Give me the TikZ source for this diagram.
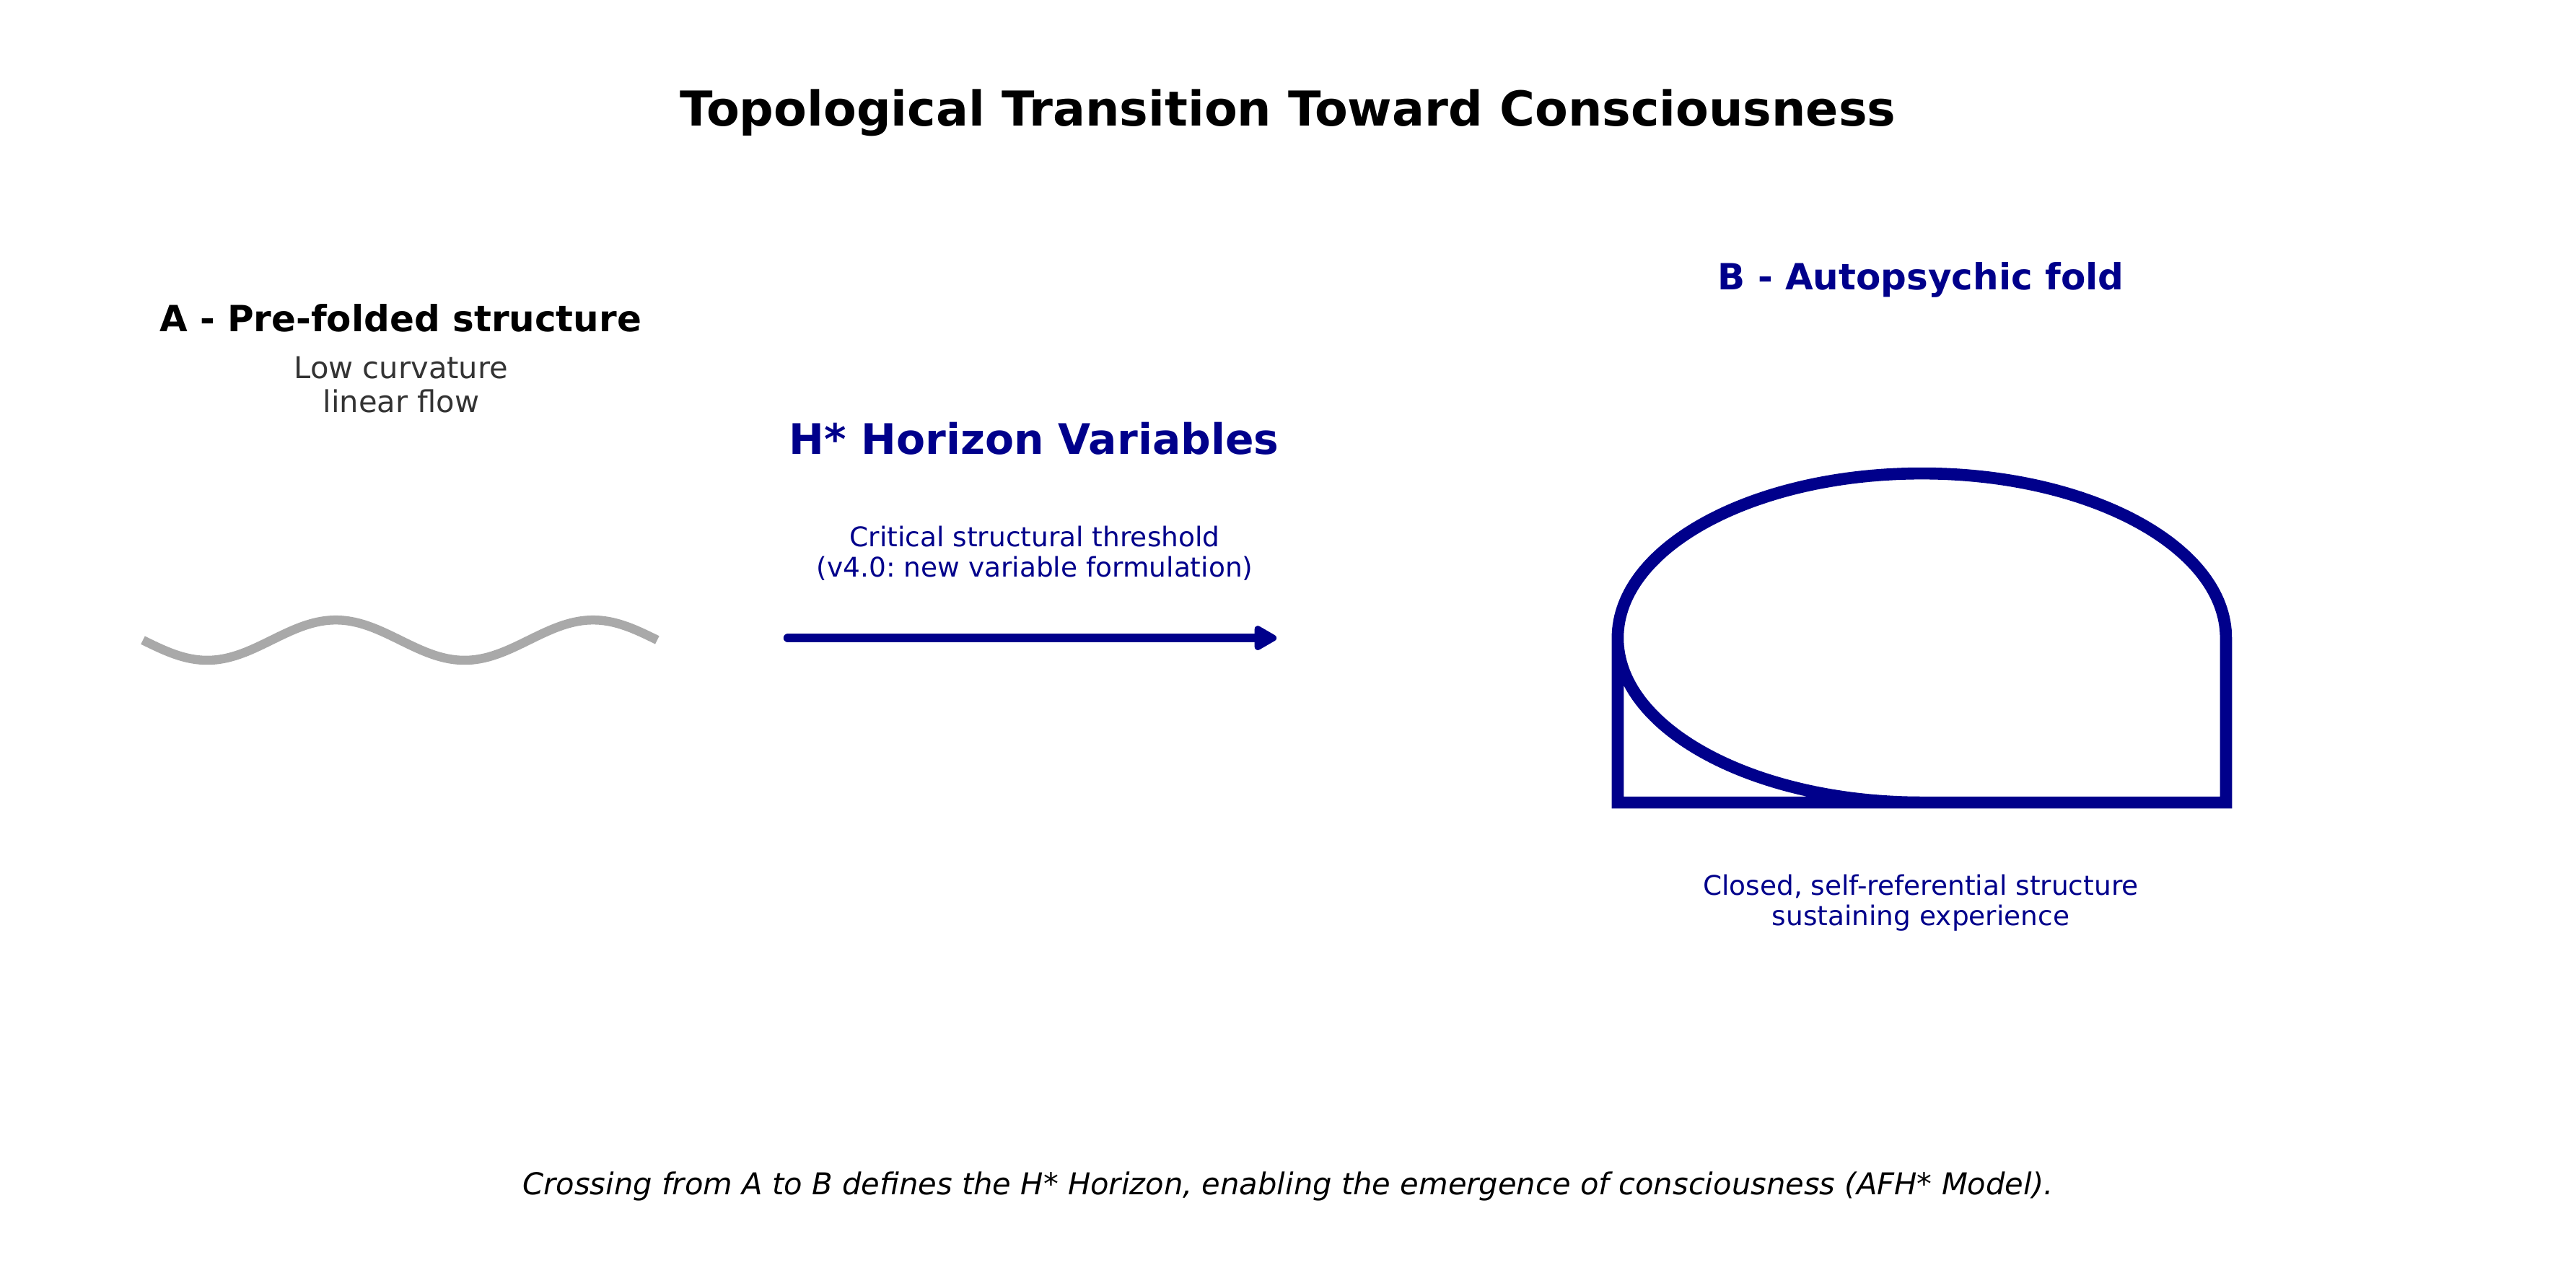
\documentclass[tikz,border=0pt]{standalone}
\usepackage{fontspec}
\setmainfont{DejaVu Sans}
\frenchspacing
\usetikzlibrary{arrows.meta}
\definecolor{foldblue}{HTML}{00008B}
\definecolor{flowgray}{HTML}{A9A9A9}
\definecolor{notegray}{HTML}{333333}
\tikzset{
  maintitle/.style = {font=\fontsize{16bp}{19bp}\selectfont\bfseries, inner sep=0pt},
  panelhead/.style = {font=\fontsize{12bp}{14bp}\selectfont\bfseries, inner sep=0pt},
  horizonhead/.style= {font=\fontsize{14bp}{17bp}\selectfont\bfseries, foldblue, inner sep=0pt},
  graynote/.style  = {font=\fontsize{10bp}{11.5bp}\selectfont, notegray, align=center, inner sep=0pt},
  bluenote/.style  = {font=\fontsize{9bp}{10.1bp}\selectfont, foldblue, align=center, inner sep=0pt},
  closing/.style   = {font=\fontsize{10bp}{12bp}\selectfont\itshape, inner sep=0pt},
  flowline/.style  = {line width=3bp, flowgray},
  crossing/.style  = {-{Triangle[length=8.5bp,width=9bp,round]}, line width=3bp,
                      line cap=round, foldblue},
  foldline/.style  = {line width=4bp, foldblue},
}

\begin{document}
\begin{tikzpicture}[x=1in,y=1in]
  \useasboundingbox (0,0) rectangle (11.9,5.9);

  \node[maintitle, anchor=base] (title) at (5.95,5.318) {Topological Transition Toward Consciousness};

  \node[panelhead, anchor=base] (headA) at (1.85,4.368) {A - Pre-folded structure};
  \node[graynote] (noteA) at (1.853,4.123) {Low curvature\\linear flow};
  \draw[flowline] plot[domain=0:2, samples=120, smooth]
    ({0.66+1.1885*\x}, {2.943-0.093*sin(360*\x)});

  \node[horizonhead, anchor=base] (horizon) at (4.777,3.8) {H* Horizon Variables};
  \node[bluenote] (threshold) at (4.78,3.343) {Critical structural threshold\\(v4.0: new variable formulation)};
  \coordinate (crossstart) at (3.64,2.953);
  \coordinate (crossend) at (5.897,2.953);
  \draw[crossing] (crossstart) -- (crossend);

  \node[panelhead, foldblue, anchor=base] (headB) at (8.873,4.562) {B - Autopsychic fold};
  \draw[foldline] (8.878,2.193) arc[start angle=270, end angle=0, x radius=1.405, y radius=0.76]
    -- (10.283,2.193) -- (7.473,2.193) -- (7.473,2.953);
  \node[bluenote] (noteB) at (8.873,1.73) {Closed, self-referential structure\\sustaining experience};

  \node[closing, anchor=base] (closing) at (5.95,0.383) {Crossing from A to B defines the H* Horizon, enabling the emergence of consciousness (AFH* Model).};
\end{tikzpicture}
\end{document}
